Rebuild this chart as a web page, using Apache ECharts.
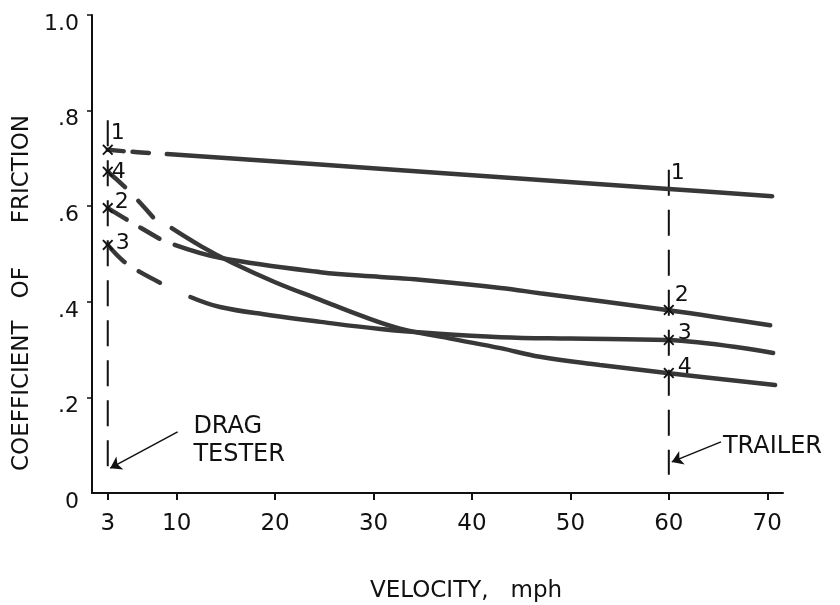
<!DOCTYPE html>
<html><head><meta charset="utf-8">
<script src="https://cdn.jsdelivr.net/npm/echarts@6/dist/echarts.min.js"></script>
<style>html,body{margin:0;padding:0;background:#fff}#c{width:840px;height:605px}</style>
</head><body><div id="c"></div>
<script>
// ---- data ----
const velocityTicks = [3, 10, 20, 30, 40, 50, 60, 70];
const frictionTicks = [0, 0.2, 0.4, 0.6, 0.8, 1.0];
const frictionLabels = ['0', '.2', '.4', '.6', '.8', '1.0'];

const curve1Dashed = [[3, 0.718], [5.3, 0.714], [7.6, 0.711]];
const curve1 = [[9, 0.709], [31, 0.678], [60, 0.636], [70.5, 0.621]];

const curve2Dashed = [[3, 0.596], [5.5, 0.565], [8.5, 0.529]];
const curve2 = [[9.8, 0.519], [14.4, 0.492], [24.6, 0.462], [30.7, 0.452], [34.7, 0.446], [42.9, 0.429], [46.9, 0.418], [59.8, 0.383], [70.3, 0.351]];

const curve3Dashed = [[3, 0.519], [4.6, 0.485], [6.3, 0.462], [8.8, 0.435]];
const curve3 = [[11.4, 0.410], [14.4, 0.389], [19.5, 0.372], [24.6, 0.358], [30.7, 0.343], [36, 0.334], [42.9, 0.326], [50, 0.323], [59.8, 0.320], [70.6, 0.293]];

const curve4Dashed = [[3, 0.672], [5, 0.635], [7.6, 0.577]];
const curve4 = [[9.5, 0.554], [12.5, 0.516], [15.7, 0.481], [20, 0.441], [24.6, 0.404], [28.6, 0.372], [32.7, 0.344], [38.1, 0.322], [42.9, 0.303], [46.9, 0.285], [53, 0.268], [59.8, 0.251], [70.8, 0.226]];

const dragTesterVelocity = 3;
const trailerVelocity = 60;
const dragTesterRange = [0.044, 0.78];
const trailerRange = [0.038, 0.676];

const dragMarkers = [['1', 0.718], ['4', 0.672], ['2', 0.596], ['3', 0.519]];
const trailerMarkers = [['2', 0.383], ['3', 0.320], ['4', 0.251]];
const trailerCurve1Value = 0.636;

// ---- styling ----
const FONT = 'DejaVu Sans';
const INK = '#111';
const CURVE = '#383838';
const xSymbol = 'path://M0,1.2L1.2,0L5,3.8L8.8,0L10,1.2L6.2,5L10,8.8L8.8,10L5,6.2L1.2,10L0,8.8L3.8,5Z';

const dragLabelOffsets = {'1': [10, -17], '4': [11, 0], '2': [14, -6], '3': [15, -2]};
const trailerLabelOffsets = {'1': [9, -16], '2': [13, -15], '3': [16, -7], '4': [16, -6]};

function solid(data) {
  return {type: 'line', data: data, smooth: 0.4, showSymbol: false, silent: true,
    lineStyle: {color: CURVE, width: 4.5, cap: 'round'}, z: 3};
}
function dashed(data, pattern) {
  return {type: 'line', data: data, smooth: 0.4, showSymbol: false, silent: true,
    lineStyle: {color: CURVE, width: 4.5, type: pattern, cap: 'round'}, z: 3};
}
function vline(v, range) {
  return {type: 'line', data: [[v, range[1]], [v, range[0]]], showSymbol: false, silent: true,
    lineStyle: {color: INK, width: 2, type: [26, 14]}, z: 2};
}

const markerData = [];
dragMarkers.forEach(function (m) {
  markerData.push({value: [dragTesterVelocity, m[1]], symbolSize: 11,
    label: {show: true, formatter: m[0], offset: dragLabelOffsets[m[0]]}});
});
trailerMarkers.forEach(function (m) {
  markerData.push({value: [trailerVelocity, m[1]], symbolSize: 11,
    label: {show: true, formatter: m[0], offset: trailerLabelOffsets[m[0]]}});
});
markerData.push({value: [trailerVelocity, trailerCurve1Value], symbolSize: 0,
  label: {show: true, formatter: '1', offset: trailerLabelOffsets['1']}});

const chart = echarts.init(document.getElementById('c'), null, {renderer: 'canvas'});
chart.setOption({
  animation: false,
  backgroundColor: '#fff',
  grid: {left: 92, right: 57, top: 15, bottom: 112, containLabel: false, outerBoundsMode: 'none'},
  xAxis: {
    type: 'value', min: 1.4, max: 71.6,
    name: 'VELOCITY,   mph', nameLocation: 'middle', nameGap: 87,
    nameTextStyle: {fontFamily: FONT, fontSize: 23, color: INK, padding: [0, 0, 0, 57]},
    axisLine: {show: true, lineStyle: {color: INK, width: 2}},
    axisTick: {show: true, customValues: velocityTicks, length: 7, lineStyle: {color: INK, width: 2}},
    axisLabel: {show: true, customValues: velocityTicks, margin: 20, fontFamily: FONT, fontSize: 23, color: INK},
    splitLine: {show: false}
  },
  yAxis: {
    type: 'value', min: 0, max: 1,
    name: 'COEFFICIENT   OF      FRICTION', nameLocation: 'middle', nameGap: 53, nameRotate: 90,
    nameTextStyle: {fontFamily: FONT, fontSize: 23, color: INK, padding: [0, 78, 0, 0]},
    axisLine: {show: true, lineStyle: {color: INK, width: 2}},
    axisTick: {show: true, customValues: frictionTicks.slice(1), length: 5, lineStyle: {color: INK, width: 1.5}},
    axisLabel: {show: true, customValues: frictionTicks, margin: 13, fontFamily: FONT, fontSize: 22, color: INK,
      verticalAlign: 'top', lineHeight: 18,
      formatter: function (v) {
        const i = frictionTicks.findIndex(function (t) { return Math.abs(t - v) < 1e-6; });
        return i >= 0 ? frictionLabels[i] : '';
      }},
    splitLine: {show: false}
  },
  series: [
    vline(dragTesterVelocity, dragTesterRange),
    vline(trailerVelocity, trailerRange),
    dashed(curve1Dashed, [16, 9]), solid(curve1),
    dashed(curve2Dashed, [22, 16]), solid(curve2),
    dashed(curve3Dashed, [24, 17]), solid(curve3),
    dashed(curve4Dashed, [23, 19]), solid(curve4),
    {
      type: 'scatter', silent: true, symbol: xSymbol, data: markerData, z: 5,
      itemStyle: {color: INK, opacity: 1},
      label: {position: 'inside', fontFamily: FONT, fontSize: 22, color: INK}
    },
    {
      type: 'lines', coordinateSystem: 'cartesian2d', silent: true, z: 4,
      symbol: ['none', 'arrow'], symbolSize: 11,
      lineStyle: {color: INK, width: 1.5, opacity: 1},
      data: [
        {coords: [[10.1, 0.128], [3.25, 0.052]]},
        {coords: [[65.3, 0.107], [60.3, 0.065]]}
      ]
    },
    {
      type: 'scatter', silent: true, symbolSize: 0, z: 5,
      itemStyle: {opacity: 1},
      label: {show: true, position: 'right', distance: 0, fontFamily: FONT, fontSize: 24, color: INK, lineHeight: 28,
        formatter: function (p) { return p.data.text; }},
      data: [
        {value: [11.7, 0.109], text: 'DRAG\nTESTER'},
        {value: [65.5, 0.096], text: 'TRAILER'}
      ]
    }
  ]
});
</script></body></html>
